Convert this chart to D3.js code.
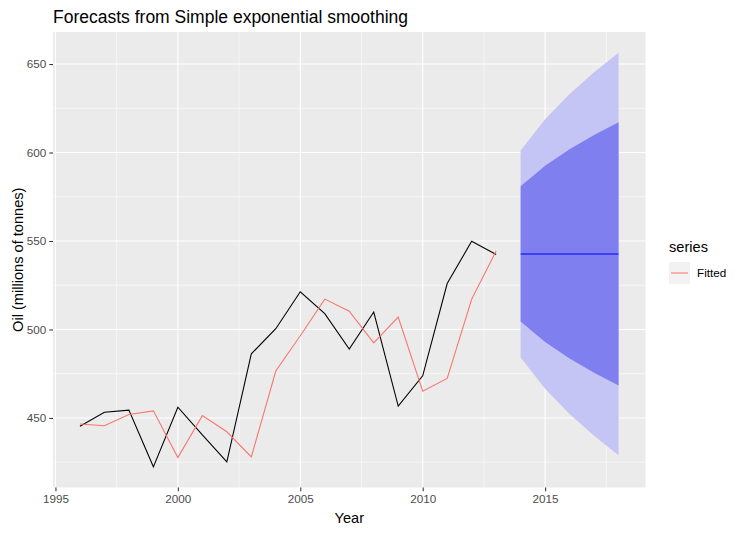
<!DOCTYPE html>
<html><head><meta charset="utf-8">
<script src="https://cdn.jsdelivr.net/npm/d3@7"></script>
<style>body{margin:0;background:#fff;}svg{display:block;font-family:"Liberation Sans",Arial,sans-serif;}</style>
</head><body>
<svg id="c" width="743" height="533"></svg>
<script>
const years = [1996,1997,1998,1999,2000,2001,2002,2003,2004,2005,2006,2007,2008,2009,2010,2011,2012,2013];
const oil = [445.36,453.20,454.41,422.38,456.04,440.39,425.19,486.21,500.43,521.28,508.95,488.89,509.87,456.72,473.82,525.95,549.83,542.34];
const fitted = [446.59,445.57,451.93,454.00,427.63,451.32,442.20,428.02,476.54,496.46,517.15,510.31,492.45,506.98,465.07,472.36,517.05,544.39];
const fcYears = [2014,2015,2016,2017,2018];
const fcMean = [542.68,542.68,542.68,542.68,542.68];
const lo80 = [504.45,492.90,483.58,475.51,468.33];
const hi80 = [580.91,592.46,601.78,609.85,617.03];
const lo95 = [484.21,466.56,452.29,439.94,428.97];
const hi95 = [601.15,618.80,633.07,645.42,656.39];
const xTicks = [1995,2000,2005,2010,2015];
const yTicks = [450,500,550,600,650];

const svg = d3.select("#c");
const L=53, R=645.5, T=32, B=487.5;
const x = d3.scaleLinear().domain([1994.9,2019.1]).range([L,R]);
const y = d3.scaleLinear().domain([410.7,668.1]).range([B,T]);

svg.append("rect").attr("x",L).attr("y",T).attr("width",R-L).attr("height",B-T).attr("fill","#EBEBEB");
const g = svg.append("g");
// minor grid
const xMinor = xTicks.map(v=>v+2.5).filter(v=>v<2019);
const yMinor = [425,475,525,575,625];
xMinor.forEach(v=>g.append("line").attr("x1",x(v)).attr("x2",x(v)).attr("y1",T).attr("y2",B).attr("stroke","#fff").attr("stroke-width",0.55));
yMinor.forEach(v=>g.append("line").attr("y1",y(v)).attr("y2",y(v)).attr("x1",L).attr("x2",R).attr("stroke","#fff").attr("stroke-width",0.55));
xTicks.forEach(v=>g.append("line").attr("x1",x(v)).attr("x2",x(v)).attr("y1",T).attr("y2",B).attr("stroke","#fff").attr("stroke-width",1.1));
yTicks.forEach(v=>g.append("line").attr("y1",y(v)).attr("y2",y(v)).attr("x1",L).attr("x2",R).attr("stroke","#fff").attr("stroke-width",1.1));

// ribbons
const fc = fcYears.map((yr,i)=>({yr,m:fcMean[i],l8:lo80[i],h8:hi80[i],l9:lo95[i],h9:hi95[i]}));
svg.append("path").datum(fc).attr("fill","#C4C4F5")
  .attr("d",d3.area().x(d=>x(d.yr)).y0(d=>y(d.l9)).y1(d=>y(d.h9)));
svg.append("path").datum(fc).attr("fill","#7F7FEF")
  .attr("d",d3.area().x(d=>x(d.yr)).y0(d=>y(d.l8)).y1(d=>y(d.h8)));
svg.append("path").datum(fc).attr("fill","none").attr("stroke","#0000FF").attr("stroke-width",1.07)
  .attr("d",d3.line().x(d=>x(d.yr)).y(d=>y(d.m)));

const line = d3.line().x(d=>x(d[0])).y(d=>y(d[1]));
svg.append("path").datum(years.map((yr,i)=>[yr,oil[i]])).attr("fill","none").attr("stroke","#000").attr("stroke-width",1.07).attr("d",line);
svg.append("path").datum(years.map((yr,i)=>[yr,fitted[i]])).attr("fill","none").attr("stroke","#F8766D").attr("stroke-width",1.07).attr("d",line);

// axes
const xa = svg.append("g").attr("transform",`translate(0,${B})`)
  .call(d3.axisBottom(x).tickValues(xTicks).tickFormat(d3.format("d")).tickSize(3.7).tickPadding(3));
const ya = svg.append("g").attr("transform",`translate(${L},0)`)
  .call(d3.axisLeft(y).tickValues(yTicks).tickSize(3.7).tickPadding(3));
[xa,ya].forEach(a=>{a.select(".domain").remove();
  a.selectAll("line").attr("stroke","#333").attr("stroke-width",1.07);
  a.selectAll("text").attr("fill","#4D4D4D").style("font-size","11.7px").style("font-family","Liberation Sans, Arial, sans-serif");});

svg.append("text").attr("x",L).attr("y",23).attr("font-size","17.5px").attr("fill","#000").text("Forecasts from Simple exponential smoothing");
svg.append("text").attr("x",(L+R)/2).attr("y",523).attr("text-anchor","middle").attr("font-size","14.6px").text("Year");
svg.append("text").attr("transform",`translate(23,${(T+B)/2}) rotate(-90)`).attr("text-anchor","middle").attr("font-size","14.6px").text("Oil (millions of tonnes)");

// legend
svg.append("text").attr("x",669).attr("y",252).attr("font-size","14.6px").text("series");
svg.append("rect").attr("x",669).attr("y",262).attr("width",21).attr("height",22).attr("fill","#F2F2F2");
svg.append("line").attr("x1",671).attr("x2",688).attr("y1",273).attr("y2",273).attr("stroke","#F8766D").attr("stroke-width",1.07);
svg.append("text").attr("x",697).attr("y",277).attr("font-size","11.7px").text("Fitted");
</script>
</body></html>
